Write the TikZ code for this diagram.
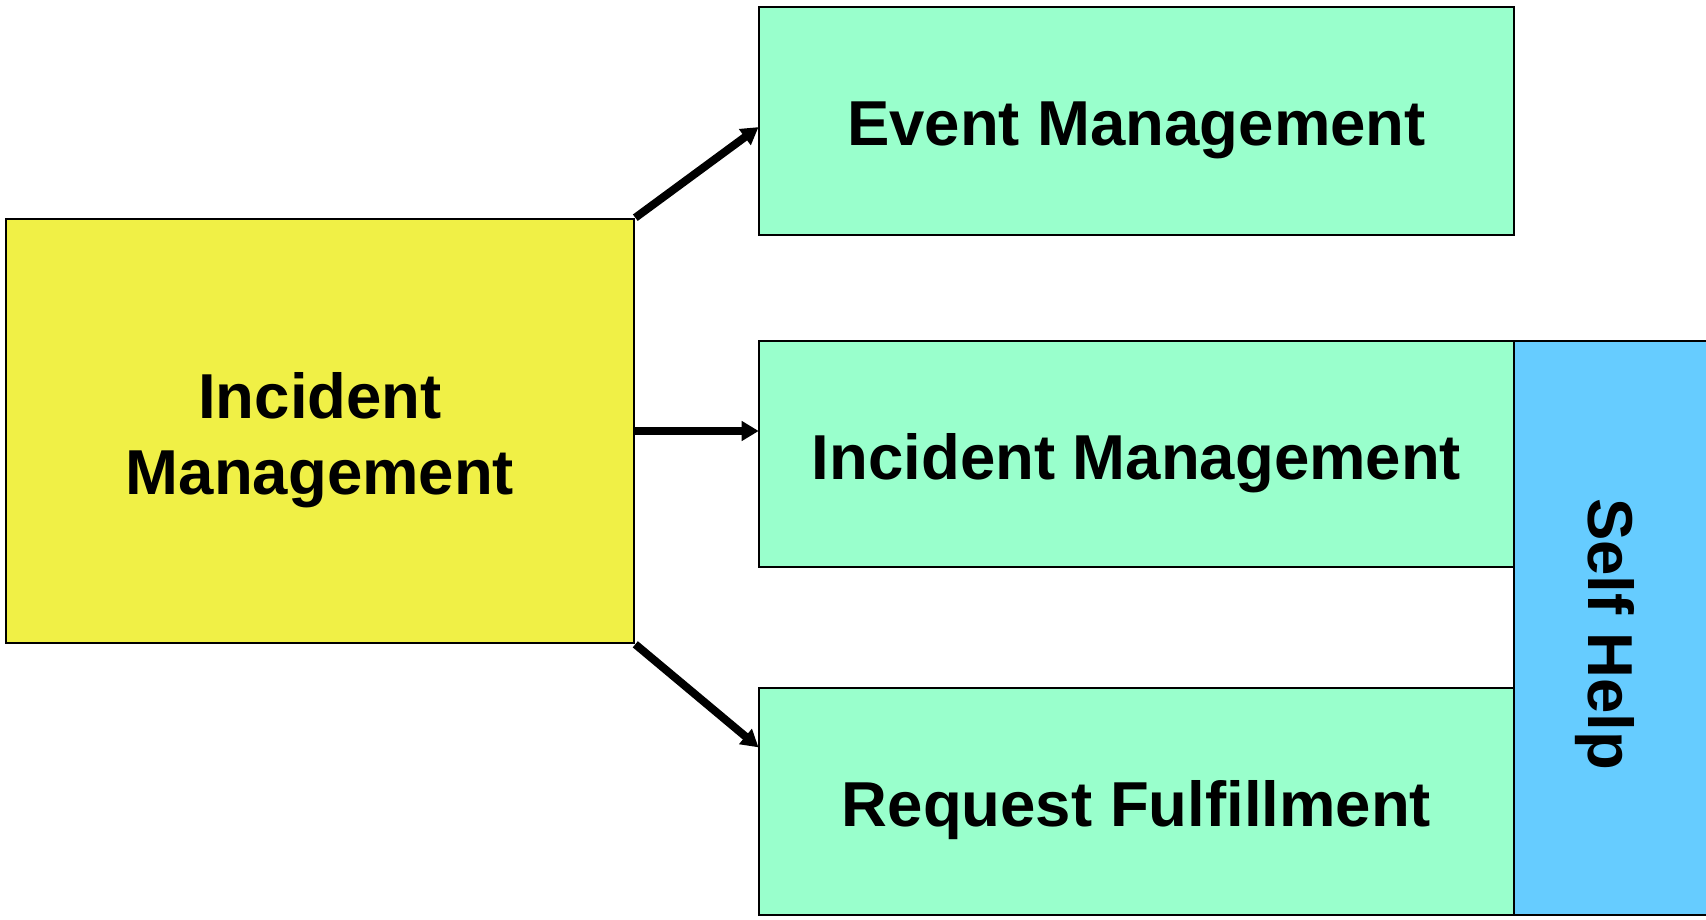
\documentclass[tikz,border=0pt]{standalone}
\usepackage{fontspec}
\setmainfont{Liberation Sans}
\usetikzlibrary{arrows.meta,calc}
\definecolor{boxyellow}{RGB}{240,240,70}
\definecolor{boxgreen}{RGB}{153,255,204}
\definecolor{boxblue}{RGB}{102,204,255}
\tikzset{
  procbox/.style={draw=black, line width=2.6pt, rectangle, inner sep=0pt},
  boxtext/.style={inner sep=0pt, align=center,
    font=\fontsize{63.5}{76}\selectfont\bfseries},
  conn/.style={line width=8pt, -{Triangle[length=17pt,width=19pt]}, shorten >=-1pt}
}
\begin{document}
\begin{tikzpicture}[x=1pt,y=-1pt]
\useasboundingbox (0,0) rectangle (1706,920);
\node[procbox, fill=boxblue, minimum width=198pt, minimum height=574pt] (selfhelp) at (1613,628) {};
\node[boxtext, rotate=-90] (selfhelptext) at (1605,634) {Self Help};
\node[procbox, fill=boxyellow, minimum width=628pt, minimum height=424pt] (source) at (320,431) {};
\node[procbox, fill=boxgreen, minimum width=755pt, minimum height=228pt] (event) at (1136.5,121) {};
\node[procbox, fill=boxgreen, minimum width=755pt, minimum height=226pt] (incident) at (1136.5,454) {};
\node[procbox, fill=boxgreen, minimum width=755pt, minimum height=227pt] (request) at (1136.5,801.5) {};
\node[boxtext] (sourcetext) at ($(source.center)+(0,9)$) {Incident\\Management};
\node[boxtext] (eventtext) at ($(event.center)+(0,9)$) {Event Management};
\node[boxtext] (incidenttext) at ($(incident.center)+(0,9)$) {Incident Management};
\node[boxtext] (requesttext) at ($(request.center)+(0,9)$) {Request Fulfillment};
\coordinate (evtin) at ($(event.north west)+(0,122)$);
\coordinate (reqin) at ($(request.north west)+(0,60)$);
\draw[conn] (source.north east) -- (evtin);
\draw[conn] (source.east) -- (source.east -| incident.west);
\draw[conn] (source.south east) -- (reqin);
\end{tikzpicture}
\end{document}
